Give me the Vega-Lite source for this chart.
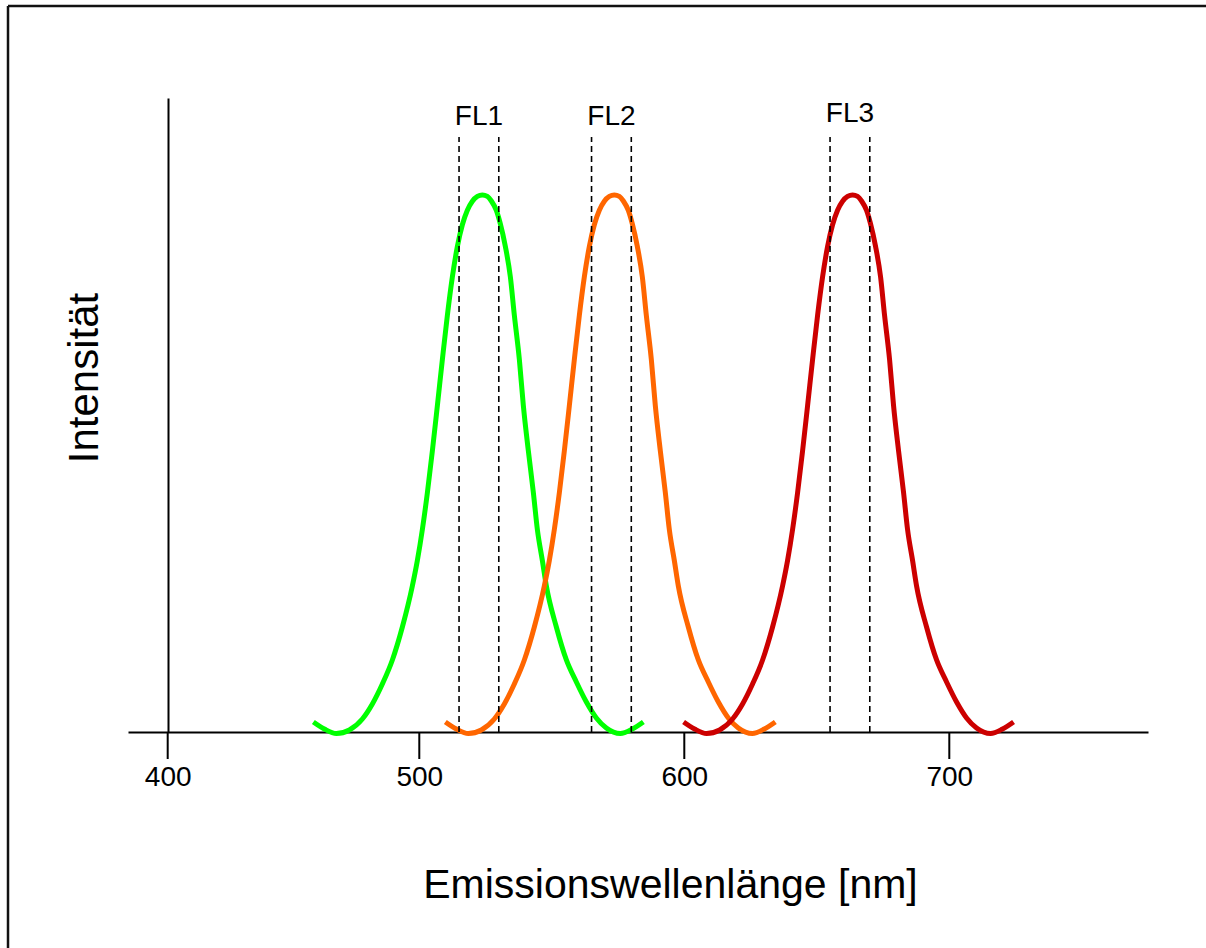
{
  "$schema": "https://vega.github.io/schema/vega-lite/v6.json",
  "width": 1020,
  "height": 634,
  "autosize": {"type": "none"},
  "padding": {"left": 128, "top": 98, "right": 58, "bottom": 216},
  "background": "white",
  "config": {
    "view": {"stroke": null},
    "font": "Liberation Sans"
  },
  "datasets": {
    "curves": [
      {"s":"g","wl":460.03,"int":0.0158},{"s":"g","wl":464.18,"int":0.0047},{"s":"g","wl":468.71,"int":-0.0024},{"s":"g","wl":473.61,"int":0.0032},
      {"s":"g","wl":478.52,"int":0.0205},{"s":"g","wl":482.29,"int":0.0442},{"s":"g","wl":486.06,"int":0.0757},{"s":"g","wl":489.84,"int":0.1136},
      {"s":"g","wl":493.61,"int":0.1656},{"s":"g","wl":497.38,"int":0.2303},{"s":"g","wl":499.27,"int":0.2705},{"s":"g","wl":501.16,"int":0.3194},
      {"s":"g","wl":503.05,"int":0.3774},{"s":"g","wl":504.93,"int":0.4432},{"s":"g","wl":506.82,"int":0.5146},{"s":"g","wl":508.71,"int":0.5875},
      {"s":"g","wl":510.59,"int":0.6569},{"s":"g","wl":512.48,"int":0.7177},{"s":"g","wl":514.37,"int":0.7658},{"s":"g","wl":516.25,"int":0.8001},
      {"s":"g","wl":518.14,"int":0.823},{"s":"g","wl":520.03,"int":0.8372},{"s":"g","wl":521.91,"int":0.8447},{"s":"g","wl":523.8,"int":0.847},
      {"s":"g","wl":525.69,"int":0.8447},{"s":"g","wl":527.2,"int":0.8375},{"s":"g","wl":529.08,"int":0.8226},{"s":"g","wl":530.59,"int":0.8013},
      {"s":"g","wl":532.48,"int":0.7658},{"s":"g","wl":534.37,"int":0.7177},{"s":"g","wl":535.88,"int":0.6569},{"s":"g","wl":537.76,"int":0.5875},
      {"s":"g","wl":539.27,"int":0.5146},{"s":"g","wl":541.16,"int":0.4432},{"s":"g","wl":543.05,"int":0.3774},{"s":"g","wl":544.55,"int":0.3194},
      {"s":"g","wl":546.44,"int":0.2705},{"s":"g","wl":547.95,"int":0.2303},{"s":"g","wl":551.72,"int":0.1656},{"s":"g","wl":555.5,"int":0.1136},
      {"s":"g","wl":559.27,"int":0.0789},{"s":"g","wl":563.05,"int":0.0473},{"s":"g","wl":566.82,"int":0.0221},{"s":"g","wl":570.59,"int":0.0063},
      {"s":"g","wl":575.88,"int":-0.0024},{"s":"g","wl":580.4,"int":0.0047},{"s":"g","wl":584.55,"int":0.0158},

      {"s":"o","wl":509.83,"int":0.0158},{"s":"o","wl":513.98,"int":0.0047},{"s":"o","wl":518.51,"int":-0.0024},{"s":"o","wl":523.41,"int":0.0032},
      {"s":"o","wl":528.32,"int":0.0205},{"s":"o","wl":532.09,"int":0.0442},{"s":"o","wl":535.86,"int":0.0757},{"s":"o","wl":539.64,"int":0.1136},
      {"s":"o","wl":543.41,"int":0.1656},{"s":"o","wl":547.18,"int":0.2303},{"s":"o","wl":549.07,"int":0.2705},{"s":"o","wl":550.96,"int":0.3194},
      {"s":"o","wl":552.85,"int":0.3774},{"s":"o","wl":554.73,"int":0.4432},{"s":"o","wl":556.62,"int":0.5146},{"s":"o","wl":558.51,"int":0.5875},
      {"s":"o","wl":560.39,"int":0.6569},{"s":"o","wl":562.28,"int":0.7177},{"s":"o","wl":564.17,"int":0.7658},{"s":"o","wl":566.05,"int":0.8001},
      {"s":"o","wl":567.94,"int":0.823},{"s":"o","wl":569.83,"int":0.8372},{"s":"o","wl":571.71,"int":0.8447},{"s":"o","wl":573.6,"int":0.847},
      {"s":"o","wl":575.49,"int":0.8447},{"s":"o","wl":577.0,"int":0.8375},{"s":"o","wl":578.88,"int":0.8226},{"s":"o","wl":580.39,"int":0.8013},
      {"s":"o","wl":582.28,"int":0.7658},{"s":"o","wl":584.17,"int":0.7177},{"s":"o","wl":585.68,"int":0.6569},{"s":"o","wl":587.56,"int":0.5875},
      {"s":"o","wl":589.07,"int":0.5146},{"s":"o","wl":590.96,"int":0.4432},{"s":"o","wl":592.85,"int":0.3774},{"s":"o","wl":594.35,"int":0.3194},
      {"s":"o","wl":596.24,"int":0.2705},{"s":"o","wl":597.75,"int":0.2303},{"s":"o","wl":601.52,"int":0.1656},{"s":"o","wl":605.3,"int":0.1136},
      {"s":"o","wl":609.07,"int":0.0789},{"s":"o","wl":612.85,"int":0.0473},{"s":"o","wl":616.62,"int":0.0221},{"s":"o","wl":620.39,"int":0.0063},
      {"s":"o","wl":625.68,"int":-0.0024},{"s":"o","wl":630.2,"int":0.0047},{"s":"o","wl":634.35,"int":0.0158},

      {"s":"r","wl":599.73,"int":0.0158},{"s":"r","wl":603.88,"int":0.0047},{"s":"r","wl":608.41,"int":-0.0024},{"s":"r","wl":613.31,"int":0.0032},
      {"s":"r","wl":618.22,"int":0.0205},{"s":"r","wl":621.99,"int":0.0442},{"s":"r","wl":625.76,"int":0.0757},{"s":"r","wl":629.54,"int":0.1136},
      {"s":"r","wl":633.31,"int":0.1656},{"s":"r","wl":637.08,"int":0.2303},{"s":"r","wl":638.97,"int":0.2705},{"s":"r","wl":640.86,"int":0.3194},
      {"s":"r","wl":642.75,"int":0.3774},{"s":"r","wl":644.63,"int":0.4432},{"s":"r","wl":646.52,"int":0.5146},{"s":"r","wl":648.41,"int":0.5875},
      {"s":"r","wl":650.29,"int":0.6569},{"s":"r","wl":652.18,"int":0.7177},{"s":"r","wl":654.07,"int":0.7658},{"s":"r","wl":655.95,"int":0.8001},
      {"s":"r","wl":657.84,"int":0.823},{"s":"r","wl":659.73,"int":0.8372},{"s":"r","wl":661.61,"int":0.8447},{"s":"r","wl":663.5,"int":0.847},
      {"s":"r","wl":665.39,"int":0.8447},{"s":"r","wl":666.9,"int":0.8375},{"s":"r","wl":668.78,"int":0.8226},{"s":"r","wl":670.29,"int":0.8013},
      {"s":"r","wl":672.18,"int":0.7658},{"s":"r","wl":674.07,"int":0.7177},{"s":"r","wl":675.58,"int":0.6569},{"s":"r","wl":677.46,"int":0.5875},
      {"s":"r","wl":678.97,"int":0.5146},{"s":"r","wl":680.86,"int":0.4432},{"s":"r","wl":682.75,"int":0.3774},{"s":"r","wl":684.25,"int":0.3194},
      {"s":"r","wl":686.14,"int":0.2705},{"s":"r","wl":687.65,"int":0.2303},{"s":"r","wl":691.42,"int":0.1656},{"s":"r","wl":695.2,"int":0.1136},
      {"s":"r","wl":698.97,"int":0.0789},{"s":"r","wl":702.75,"int":0.0473},{"s":"r","wl":706.52,"int":0.0221},{"s":"r","wl":710.29,"int":0.0063},
      {"s":"r","wl":715.58,"int":-0.0024},{"s":"r","wl":720.1,"int":0.0047},{"s":"r","wl":724.25,"int":0.0158}
    ],
    "filters": [
      {"wl": 515}, {"wl": 530}, {"wl": 565}, {"wl": 580}, {"wl": 655}, {"wl": 670}
    ],
    "tickpos": [
      {"wl": 405.06, "lo": 0, "hi": -0.0426}, {"wl": 500, "lo": 0, "hi": -0.0426}, {"wl": 600, "lo": 0, "hi": -0.0426}, {"wl": 700, "lo": 0, "hi": -0.0426}
    ],
    "labels": [
      {"label": "FL1", "wl": 522.5, "int": 0.9574},
      {"label": "FL2", "wl": 572.5, "int": 0.9574},
      {"label": "FL3", "wl": 662.5, "int": 0.9621}
    ],
    "frame": [
      {"wl": 344.8, "wl2": 830, "int": 1.1451, "int2": 1.1451},
      {"wl": 344.8, "wl2": 344.8, "int": 1.1451, "int2": -0.45}
    ]
  },
  "layer": [
    {
      "data": {"name": "curves"},
      "mark": {"type": "line", "strokeWidth": 5, "interpolate": "monotone", "strokeCap": "butt"},
      "encoding": {
        "x": {
          "field": "wl", "type": "quantitative",
          "scale": {"domain": [390.08, 774.98], "nice": false, "zero": false},
          "axis": {
            "title": "Emissionswellenlänge [nm]",
            "values": [405.06, 500, 600, 700],
            "labelExpr": "datum.value < 450 ? '400' : format(datum.value, 'd')",
            "grid": false,
            "domainColor": "black", "domainWidth": 2,
            "ticks": false,
            "labelFontSize": 28, "labelColor": "black", "labelBaseline": "alphabetic", "labelPadding": 53,
            "labelFlush": false, "labelOverlap": false,
            "titleFontSize": 41, "titleFontWeight": "normal", "titleColor": "black",
            "titleX": 542, "titleY": 165, "titleBaseline": "alphabetic", "titleAlign": "center"
          }
        },
        "y": {
          "field": "int", "type": "quantitative",
          "scale": {"domain": [0, 1], "nice": false, "zero": false},
          "axis": {
            "title": "Intensität",
            "offset": -40,
            "domainColor": "black", "domainWidth": 2,
            "ticks": false, "labels": false, "grid": false,
            "titleFontSize": 42, "titleFontWeight": "normal", "titleColor": "black",
            "titleX": -70.5, "titleY": 279.5, "titleAngle": -90, "titleBaseline": "alphabetic", "titleAlign": "center"
          }
        },
        "color": {
          "field": "s", "type": "nominal",
          "scale": {"domain": ["g", "o", "r"], "range": ["#00ff00", "#ff6600", "#cc0000"]},
          "legend": null
        }
      }
    },
    {
      "data": {"name": "tickpos"},
      "mark": {"type": "rule", "color": "black", "strokeWidth": 2},
      "encoding": {
        "x": {"field": "wl", "type": "quantitative"},
        "y": {"field": "lo", "type": "quantitative"},
        "y2": {"field": "hi"}
      }
    },
    {
      "data": {"name": "filters"},
      "mark": {"type": "rule", "color": "black", "strokeWidth": 1.6, "strokeDash": [6, 4]},
      "encoding": {
        "x": {"field": "wl", "type": "quantitative"},
        "y": {"datum": 0},
        "y2": {"datum": 0.9385}
      }
    },
    {
      "data": {"name": "labels"},
      "mark": {"type": "text", "fontSize": 28, "color": "black", "align": "center", "baseline": "alphabetic"},
      "encoding": {
        "x": {"field": "wl", "type": "quantitative"},
        "y": {"field": "int", "type": "quantitative"},
        "text": {"field": "label"}
      }
    },
    {
      "data": {"name": "frame"},
      "mark": {"type": "rule", "color": "#111111", "strokeWidth": 2.5},
      "encoding": {
        "x": {"field": "wl", "type": "quantitative"},
        "x2": {"field": "wl2"},
        "y": {"field": "int", "type": "quantitative"},
        "y2": {"field": "int2"}
      }
    }
  ]
}
